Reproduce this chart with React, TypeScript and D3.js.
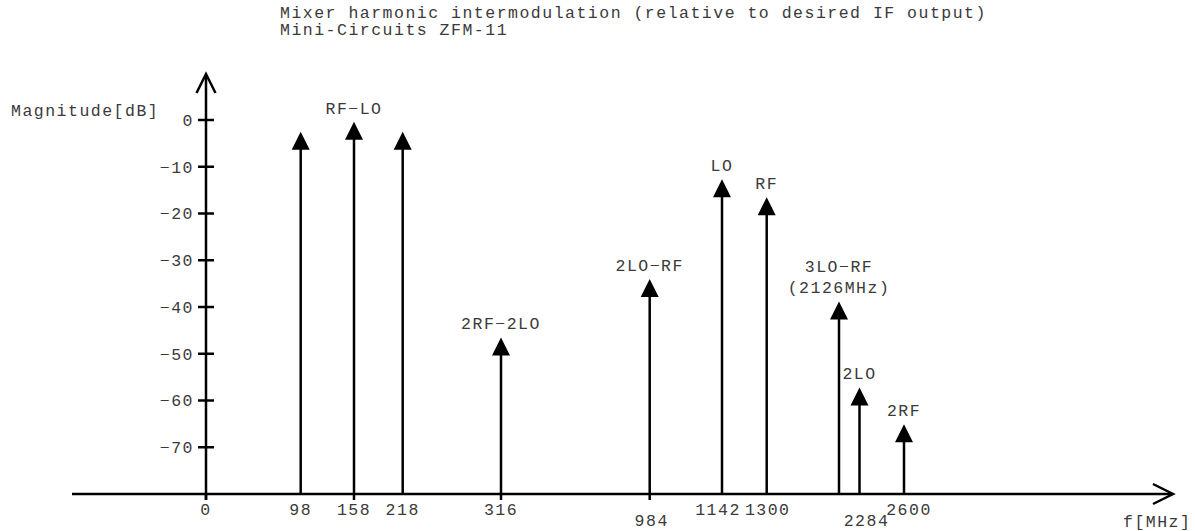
import React from "react";
import * as d3 from "d3";

const titleLines = [
  "Mixer harmonic intermodulation (relative to desired IF output)",
  "Mini-Circuits ZFM-11",
];
const freqs = [98, 158, 218, 316, 984, 1142, 1300, 2126, 2284, 2600];
const magnitudes = [-2.5, -0.4, -2.5, -46.5, -34.0, -12.7, -16.5, -38.8, -57.2, -65.1];
const peakLabels: { freq: number; lines: string[] }[] = [
  { freq: 158, lines: ["RF\u2212LO"] },
  { freq: 316, lines: ["2RF\u22122LO"] },
  { freq: 984, lines: ["2LO\u2212RF"] },
  { freq: 1142, lines: ["LO"] },
  { freq: 1300, lines: ["RF"] },
  { freq: 2126, lines: ["3LO\u2212RF", "(2126MHz)"] },
  { freq: 2284, lines: ["2LO"] },
  { freq: 2600, lines: ["2RF"] },
];
const xTickFreqs = [0, 98, 158, 218, 316, 984, 1142, 1300, 2284, 2600];
const xTickLowered = [984, 2284];
const xTickMarked = [0, 158, 316, 984];
const yTicks = [0, -10, -20, -30, -40, -50, -60, -70];

const W = 1195;
const H = 531;
const FONT = "'Liberation Mono', 'DejaVu Sans Mono', monospace";
const TXT = "#3a3a3a";
const FS = 16.5;
const LS = 1.5;

// small horizontal nudges of tick labels, as in the reference
const tickNudge: Record<number, number> = { 984: 2, 1142: -4, 1300: 1, 2284: 7, 2600: 5 };

export default function App() {
  const y = d3.scaleLinear().domain([-80, 0]).range([494, 120]);
  const x = d3
    .scaleLinear()
    .domain([0, 98, 158, 218, 316, 984, 1142, 1300, 2126, 2284, 2600])
    .range([206, 300.7, 354, 402.7, 501, 649.7, 722, 766.7, 839, 859.5, 904]);
  const x0 = x(0);
  const yAxis = y(-80);
  const head = 18;
  const half = 9;

  const tProps = { fontFamily: FONT, fontSize: FS, fill: TXT, letterSpacing: LS };

  return (
    <svg width={W} height={H} style={{ position: "absolute", left: 0, top: 0, background: "#fff" }}>
      <rect width={W} height={H} fill="#fff" />
      <g {...tProps}>
        {titleLines.map((t, i) => (
          <text key={i} x={280} y={18 + i * 16.5}>
            {t}
          </text>
        ))}
        <text x={11} y={116}>Magnitude[dB]</text>
        <text x={1123} y={527}>f[MHz]</text>
      </g>

      {/* axes */}
      <line x1={72} x2={1172} y1={yAxis} y2={yAxis} stroke="#000" strokeWidth={2.5} />
      <polyline
        points={`1153,${yAxis - 10} 1173,${yAxis} 1153,${yAxis + 10}`}
        fill="none"
        stroke="#000"
        strokeWidth={2.5}
      />
      <line x1={x0} x2={x0} y1={yAxis + 6} y2={75} stroke="#000" strokeWidth={2.5} />
      <polyline
        points={`${x0 - 9.5},93 ${x0},74 ${x0 + 9.5},93`}
        fill="none"
        stroke="#000"
        strokeWidth={2.5}
      />

      {/* y ticks */}
      {yTicks.map((v) => (
        <g key={v}>
          <line x1={x0 - 8} x2={x0 + 8} y1={y(v)} y2={y(v)} stroke="#000" strokeWidth={2.5} />
          <text x={x0 - 12} y={y(v)} dy="0.35em" textAnchor="end" {...tProps}>
            {v === 0 ? "0" : "\u2212" + Math.abs(v)}
          </text>
        </g>
      ))}

      {/* x ticks */}
      {xTickMarked.map((f) => (
        <line key={f} x1={x(f)} x2={x(f)} y1={yAxis} y2={yAxis + 6} stroke="#000" strokeWidth={2.5} />
      ))}
      {xTickFreqs.map((f) => (
        <text
          key={f}
          x={x(f) + (tickNudge[f] || 0)}
          y={xTickLowered.includes(f) ? 526 : 515}
          textAnchor="middle"
          {...tProps}
        >
          {f}
        </text>
      ))}

      {/* spectral lines */}
      {freqs.map((f, i) => {
        const xs = x(f);
        const yt = y(magnitudes[i]);
        return (
          <g key={f}>
            <line x1={xs} x2={xs} y1={yAxis} y2={yt + head - 1} stroke="#000" strokeWidth={2.5} />
            <path d={`M${xs},${yt} L${xs - half},${yt + head} L${xs + half},${yt + head} Z`} fill="#000" />
          </g>
        );
      })}

      {/* peak labels */}
      {peakLabels.map((p) => {
        const i = freqs.indexOf(p.freq);
        const yt = y(magnitudes[i]);
        const n = p.lines.length;
        return (
          <text key={p.freq} x={x(p.freq)} textAnchor="middle" {...tProps}>
            {p.lines.map((l, k) => (
              <tspan key={k} x={x(p.freq)} y={yt - 8 - (n - 1 - k) * 21}>
                {l}
              </tspan>
            ))}
          </text>
        );
      })}
    </svg>
  );
}
